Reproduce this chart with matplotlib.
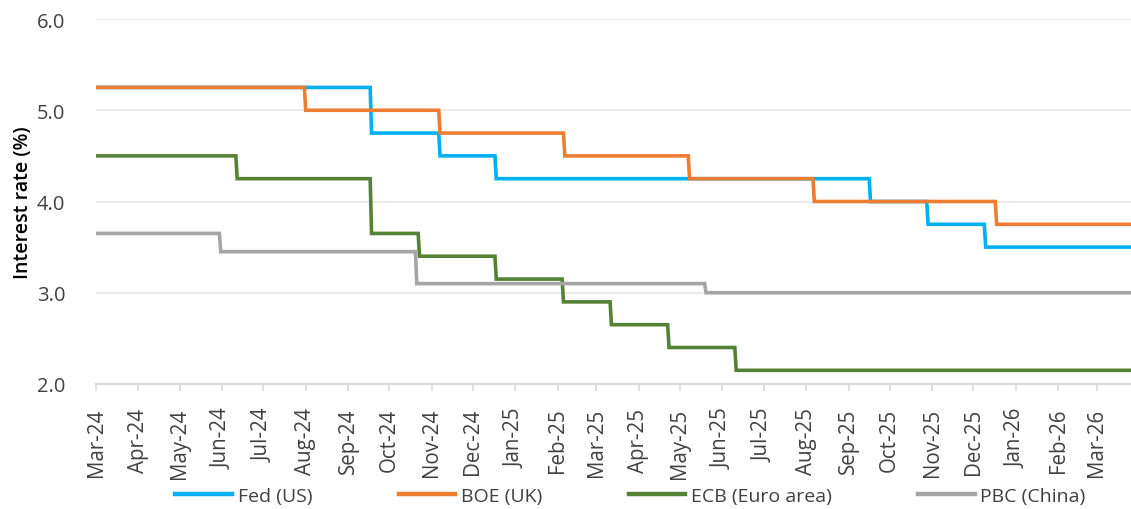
import numpy as np
import pandas as pd
import matplotlib
matplotlib.use("Agg")
import matplotlib.pyplot as plt
import matplotlib.dates as mdates

plt.rcParams['font.family'] = ['Open Sans', 'DejaVu Sans']

start = "2024-03-01"
end = "2026-03-26"

# Policy rate paths: opening level, then (effective date, new rate)
fed_start = 5.25
fed_dates = ["2024-09-18", "2024-11-07", "2024-12-18", "2025-09-17", "2025-10-29", "2025-12-10"]
fed_rates = [4.75, 4.50, 4.25, 4.00, 3.75, 3.50]

boe_start = 5.25
boe_dates = ["2024-08-01", "2024-11-07", "2025-02-06", "2025-05-08", "2025-08-07", "2025-12-18"]
boe_rates = [5.00, 4.75, 4.50, 4.25, 4.00, 3.75]

ecb_start = 4.50
ecb_dates = ["2024-06-12", "2024-09-18", "2024-10-23", "2024-12-18", "2025-02-05",
             "2025-03-12", "2025-04-23", "2025-06-11"]
ecb_rates = [4.25, 3.65, 3.40, 3.15, 2.90, 2.65, 2.40, 2.15]

pbc_start = 3.65
pbc_dates = ["2024-05-31", "2024-10-21", "2025-05-20"]
pbc_rates = [3.45, 3.10, 3.00]

labels = ["Fed (US)", "BOE (UK)", "ECB (Euro area)", "PBC (China)"]
colors = ["#00B0F0", "#ED7D31", "#548235", "#A5A5A5"]

days = pd.date_range(start, end, freq="D")


def daily_path(first, dates, rates):
    change = pd.to_datetime(dates).values
    levels = np.array([first] + list(rates))
    idx = np.searchsorted(change, days.values, side="right")
    return levels[idx]


series = [
    daily_path(fed_start, fed_dates, fed_rates),
    daily_path(boe_start, boe_dates, boe_rates),
    daily_path(ecb_start, ecb_dates, ecb_rates),
    daily_path(pbc_start, pbc_dates, pbc_rates),
]

fig = plt.figure(figsize=(11.31, 5.10), dpi=100)
ax = fig.add_axes([96 / 1131, 1 - 385 / 510, 1 - 96 / 1131, (385 - 20) / 510])

for vals, lab, col in zip(series, labels, colors):
    ax.plot(days, vals, color=col, lw=2.6, label=lab, solid_joinstyle="miter")

ax.set_ylim(2.0, 6.0)
ax.set_yticks([2.0, 3.0, 4.0, 5.0, 6.0])
ax.yaxis.set_major_formatter(matplotlib.ticker.FormatStrFormatter("%.1f"))
ax.set_xlim(pd.Timestamp(start), pd.Timestamp(end))

ax.xaxis.set_major_locator(mdates.MonthLocator())
ax.xaxis.set_major_formatter(mdates.DateFormatter("%b-%y"))

ax.grid(axis="y", color="#E6E6E6", lw=1.2)
ax.set_axisbelow(True)
for s in ["top", "right", "left"]:
    ax.spines[s].set_visible(False)
ax.spines["bottom"].set_color("#D9D9D9")
ax.spines["bottom"].set_linewidth(1.5)

ax.tick_params(axis="y", length=0, pad=22, labelsize=14.5, labelcolor="#404040")
ax.tick_params(axis="x", length=5, width=1.2, color="#D9D9D9", labelsize=14.8,
               labelcolor="#404040", labelrotation=90, pad=12)

ax.set_ylabel("Interest rate (%)", fontsize=14, color="#000000", fontweight="semibold", labelpad=3)

leg = fig.legend(loc="center", bbox_to_anchor=(0.5575, 1 - 497 / 510), ncol=4, frameon=False,
                 fontsize=14, handlelength=2.9, columnspacing=4.45, handletextpad=0.3,
                 labelcolor="#404040")
for h in leg.get_lines():
    h.set_linewidth(3.2)

fig.savefig("out.png", dpi=100)
